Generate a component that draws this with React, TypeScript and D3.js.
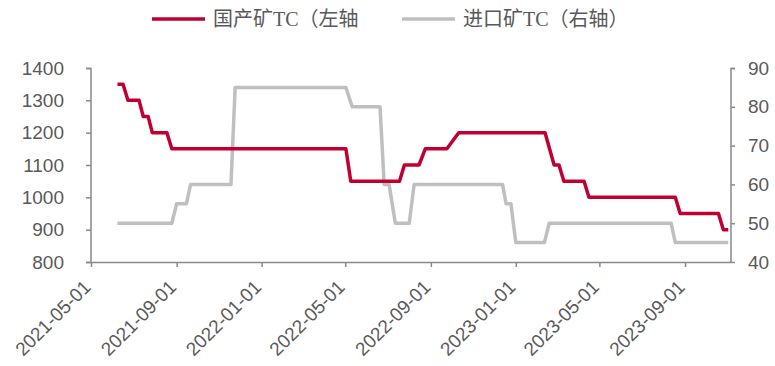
import React, { useEffect, useRef } from "react";
import * as d3 from "d3";

// 国产矿TC (left axis), vertices of the weekly series
const domesticDates = [
  "2021-06-08", "2021-06-16", "2021-06-23", "2021-07-09", "2021-07-15", "2021-07-22",
  "2021-07-28", "2021-08-18", "2021-08-25", "2022-05-02", "2022-05-09", "2022-07-18",
  "2022-07-25", "2022-08-15", "2022-08-24", "2022-09-24", "2022-10-11", "2023-02-12",
  "2023-02-25", "2023-03-04", "2023-03-11", "2023-04-09", "2023-04-16", "2023-08-18",
  "2023-08-25", "2023-10-19", "2023-10-26", "2023-11-02",
];
const domesticValues = [
  1350, 1350, 1300, 1300, 1250, 1250,
  1200, 1200, 1150, 1150, 1050, 1050,
  1100, 1100, 1150, 1150, 1200, 1200,
  1100, 1100, 1050, 1050, 1000, 1000,
  950, 950, 900, 900,
];

// 进口矿TC (right axis)
const importDates = [
  "2021-06-08", "2021-08-25", "2021-09-01", "2021-09-15", "2021-09-21", "2021-11-18",
  "2021-11-24", "2022-05-02", "2022-05-11", "2022-06-20", "2022-06-26", "2022-07-03",
  "2022-07-12", "2022-08-01", "2022-08-08", "2022-12-13", "2022-12-18", "2022-12-25",
  "2023-01-01", "2023-02-11", "2023-02-18", "2023-08-12", "2023-08-18", "2023-11-02",
];
const importValues = [
  50, 50, 55, 55, 60, 60,
  85, 85, 80, 80, 60, 60,
  50, 50, 60, 60, 55, 55,
  45, 45, 50, 50, 45, 45,
];

const xTicks = [
  "2021-05-01", "2021-09-01", "2022-01-01", "2022-05-01",
  "2022-09-01", "2023-01-01", "2023-05-01", "2023-09-01",
];
const leftTicks = [800, 900, 1000, 1100, 1200, 1300, 1400];
const rightTicks = [40, 50, 60, 70, 80, 90];
const seriesNames = ["国产矿TC（左轴", "进口矿TC（右轴）"];

const W = 775;
const H = 366;

const App: React.FC = () => {
  const ref = useRef<SVGSVGElement | null>(null);

  useEffect(() => {
    if (!ref.current) return;
    const parse = d3.timeParse("%Y-%m-%d");
    const svg = d3.select(ref.current);
    svg.selectAll("*").remove();

    const left = 91, right = 731, top = 68, bottom = 262;
    const axisColor = "#898989";
    const textColor = "#595959";
    const red = "#C00031";
    const gray = "#BFBFBF";

    const x = d3
      .scaleTime()
      .domain([parse("2021-05-01")!, parse("2023-11-06")!])
      .range([left, right]);
    const yL = d3.scaleLinear().domain([800, 1400]).range([bottom, top]);
    const yR = d3.scaleLinear().domain([40, 90]).range([bottom, top]);

    // --- Axes
    const xAxis = svg
      .append("g")
      .attr("transform", `translate(0,${bottom})`)
      .call(
        d3
          .axisBottom(x)
          .tickValues(xTicks.map((d) => parse(d)!))
          .tickSize(5)
          .tickFormat((d) => d3.timeFormat("%Y-%m-%d")(d as Date))
      );
    xAxis.select(".domain").attr("d", `M${left - 5},0.5H${right}`);
    xAxis
      .selectAll("text")
      .attr("text-anchor", "end")
      .attr("transform", "translate(-10,16) rotate(-45)")
      .attr("dy", "0.35em")
      .attr("y", 8);

    const lAxis = svg
      .append("g")
      .attr("transform", `translate(${left},0)`)
      .call(
        d3
          .axisLeft(yL)
          .tickValues(leftTicks)
          .tickSize(5)
          .tickPadding(22)
          .tickFormat(d3.format("d"))
      );

    const rAxis = svg
      .append("g")
      .attr("transform", `translate(${right},0)`)
      .call(d3.axisRight(yR).tickValues(rightTicks).tickSize(4).tickPadding(13));

    [xAxis, lAxis, rAxis].forEach((g) => {
      g.selectAll("path,line").attr("stroke", axisColor).attr("stroke-width", 1.5);
      g.selectAll("text")
        .attr("fill", textColor)
        .style("font-family", "Arial, 'Liberation Sans', sans-serif")
        .style("font-size", "19px");
    });
    lAxis.select(".domain").attr("d", `M-5,${top}.5H0V${bottom}`);
    rAxis.select(".domain").attr("d", `M4,${top}.5H0V${bottom}`);

    // --- Lines
    const domestic = domesticDates.map((d, i) => ({ date: parse(d)!, value: domesticValues[i] }));
    const imported = importDates.map((d, i) => ({ date: parse(d)!, value: importValues[i] }));

    svg
      .append("path")
      .datum(imported)
      .attr("fill", "none")
      .attr("stroke", gray)
      .attr("stroke-width", 3.5)
      .attr("stroke-linejoin", "round")
      .attr(
        "d",
        d3
          .line<{ date: Date; value: number }>()
          .x((d) => x(d.date))
          .y((d) => yR(d.value))
      );

    svg
      .append("path")
      .datum(domestic)
      .attr("fill", "none")
      .attr("stroke", red)
      .attr("stroke-width", 3.5)
      .attr("stroke-linejoin", "round")
      .attr(
        "d",
        d3
          .line<{ date: Date; value: number }>()
          .x((d) => x(d.date))
          .y((d) => yL(d.value))
      );

    // --- Legend
    const legendX = [152, 402];
    const legendColors = [red, gray];
    seriesNames.forEach((name, i) => {
      const g = svg.append("g").attr("transform", `translate(${legendX[i]},19)`);
      g.append("line")
        .attr("x1", 0)
        .attr("x2", 53)
        .attr("stroke", legendColors[i])
        .attr("stroke-width", 3.5);
      g.append("text")
        .attr("x", 61)
        .attr("dy", "0.35em")
        .attr("fill", textColor)
        .style("font-family", "'Liberation Serif', 'Noto Sans CJK SC', serif")
        .style("font-size", "20px")
        .text(name);
    });

    return () => {
      svg.selectAll("*").remove();
    };
  }, []);

  return (
    <svg
      ref={ref}
      width={W}
      height={H}
      style={{ position: "absolute", left: 0, top: 0, background: "#fff" }}
    />
  );
};

export default App;
